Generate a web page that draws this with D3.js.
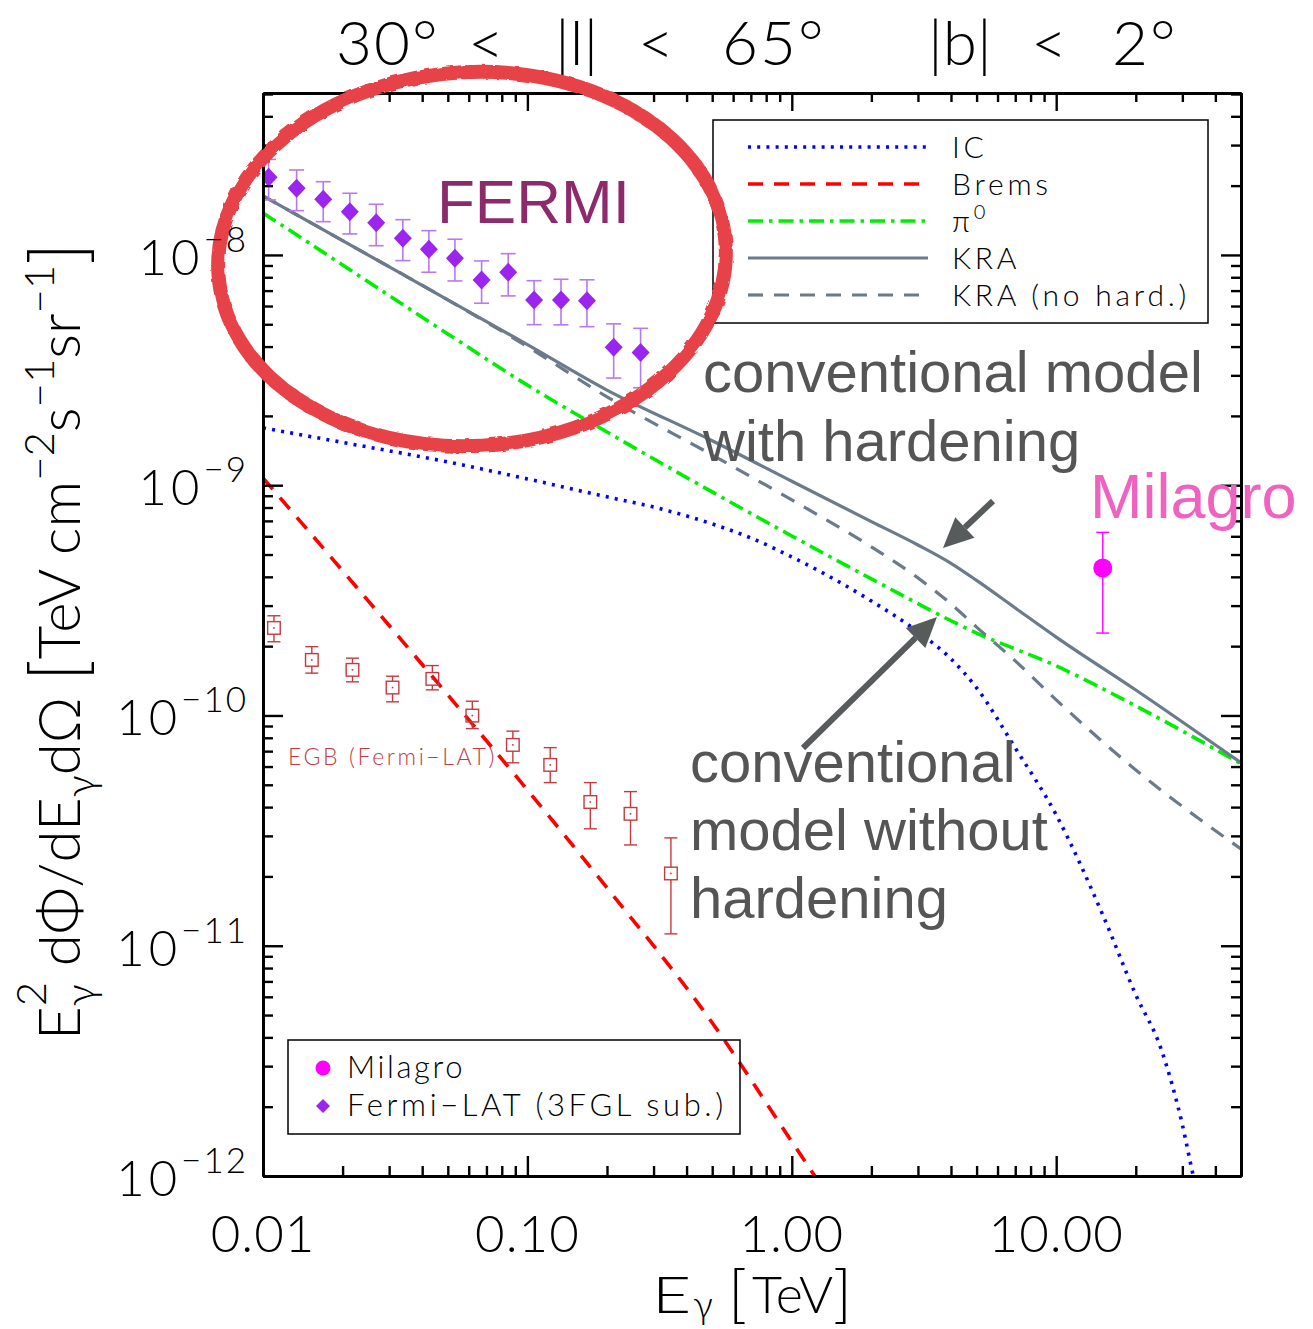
<!DOCTYPE html>
<html><head><meta charset="utf-8">
<script src="https://cdn.jsdelivr.net/npm/d3@7"></script>
<style>body{margin:0;background:#fff}svg{display:block}</style>
</head><body>
<script>
// ---------------- data ----------------
const icE = [0.01, 0.02, 0.05, 0.1, 0.2, 0.3, 0.5, 0.7, 1, 2, 3, 4, 5, 7, 10, 15, 20, 25, 30, 33, 35];
const icF = [1.774e-9, 1.534e-9, 1.262e-9, 1.065e-9, 8.90e-10, 8.04e-10, 6.79e-10, 5.90e-10, 4.88e-10, 3.14e-10, 2.31e-10, 1.761e-10, 1.318e-10, 7.23e-11, 3.70e-11, 1.362e-11, 6.12e-12, 3.53e-12, 1.67e-12, 1.0e-12, 7.5e-13];

const bremsE = [0.01, 0.02, 0.05, 0.1, 0.2, 0.5, 1, 1.3];
const bremsF = [1.076e-9, 4.25e-10, 1.229e-10, 4.75e-11, 1.784e-11, 4.63e-12, 1.41e-12, 9.0e-13];

const pi0E = [0.01, 0.02, 0.05, 0.1, 0.2, 0.5, 1, 2, 5, 10, 20, 50];
const pi0F = [1.522e-8, 9.05e-9, 4.54e-9, 2.72e-9, 1.703e-9, 9.35e-10, 6.02e-10, 3.92e-10, 2.28e-10, 1.642e-10, 1.10e-10, 6.17e-11];

const kraE = [0.01, 0.02, 0.05, 0.1, 0.2, 0.5, 1, 2, 3, 4, 5, 7, 10, 20, 50];
const kraF = [1.804e-8, 1.154e-8, 6.38e-9, 4.08e-9, 2.59e-9, 1.56e-9, 1.04e-9, 6.95e-10, 5.50e-10, 4.58e-10, 3.86e-10, 2.93e-10, 2.19e-10, 1.29e-10, 6.23e-11];

const kraNoHardE = [0.01, 0.02, 0.05, 0.1, 0.2, 0.5, 1, 2, 3, 4, 5, 7, 10, 20, 50];
const kraNoHardF = [1.804e-8, 1.154e-8, 6.38e-9, 4.0e-9, 2.42e-9, 1.353e-9, 8.63e-10, 5.40e-10, 3.96e-10, 3.05e-10, 2.42e-10, 1.726e-10, 1.169e-10, 5.80e-11, 2.63e-11];

const fermiE  = [0.0105, 0.0134, 0.0169, 0.0213, 0.0268, 0.0338, 0.0424, 0.0532, 0.0671, 0.0846, 0.106, 0.134, 0.168, 0.212, 0.268];
const fermiF  = [2.175e-8, 1.948e-8, 1.745e-8, 1.542e-8, 1.381e-8, 1.182e-8, 1.059e-8, 9.67e-9, 7.79e-9, 8.41e-9, 6.38e-9, 6.38e-9, 6.33e-9, 3.97e-9, 3.77e-9];
const fermiLo = [1.733e-8, 1.557e-8, 1.395e-8, 1.234e-8, 1.097e-8, 9.45e-9, 8.41e-9, 7.71e-9, 6.17e-9, 6.64e-9, 4.98e-9, 4.97e-9, 4.88e-9, 2.92e-9, 2.65e-9];
const fermiHi = [2.60e-8, 2.339e-8, 2.08e-8, 1.853e-8, 1.66e-8, 1.423e-8, 1.275e-8, 1.17e-8, 9.42e-9, 1.013e-8, 7.73e-9, 7.84e-9, 7.8e-9, 5.02e-9, 4.80e-9];

const egbE  = [0.0110, 0.0153, 0.0218, 0.0309, 0.0437, 0.0619, 0.0881, 0.122, 0.173, 0.2455, 0.349];
const egbF  = [2.40e-10, 1.743e-10, 1.578e-10, 1.322e-10, 1.442e-10, 9.99e-11, 7.45e-11, 6.10e-11, 4.21e-11, 3.74e-11, 2.06e-11];
const egbLo = [2.09e-10, 1.527e-10, 1.40e-10, 1.146e-10, 1.292e-10, 8.77e-11, 6.23e-11, 5.11e-11, 3.22e-11, 2.74e-11, 1.126e-11];
const egbHi = [2.71e-10, 1.99e-10, 1.774e-10, 1.481e-10, 1.647e-10, 1.153e-10, 8.55e-11, 7.25e-11, 5.11e-11, 4.67e-11, 2.94e-11];

const milagroE  = [15];
const milagroF  = [4.37e-10];
const milagroLo = [2.28e-10];
const milagroHi = [6.24e-10];

const xTickValues = [0.01, 0.1, 1, 10];
const xTickLabels = ["0.01", "0.10", "1.00", "10.00"];
const yTickValues = [1e-12, 1e-11, 1e-10, 1e-9, 1e-8];
const yTickExponents = ["\u221212", "\u221211", "\u221210", "\u22129", "\u22128"];

const legendLabels = ["IC", "Brems", "\u03c0", "KRA", "KRA (no hard.)"];
const titleTokens = ["30\u00b0", "<", "|l|", "<", "65\u00b0", "|b|", "<", "2\u00b0"];

// ---------------- layout ----------------
const W = 1313, H = 1329;
const L = 263, R = 1241, T = 93, B = 1176;
const LF = "Lato, 'Open Sans', 'DejaVu Sans', sans-serif";
const AF = "'Liberation Sans', Arial, Helvetica, sans-serif";

const svg = d3.select("body").append("svg").attr("width", W).attr("height", H);
const defs = svg.append("defs");

const x = d3.scaleLog().domain([0.01, 50]).range([L, R]);
const y = d3.scaleLog().domain([1e-12, 5.05e-8]).range([B, T]);

defs.append("clipPath").attr("id", "clip").append("rect")
  .attr("x", L).attr("y", T).attr("width", R - L).attr("height", B - T);

// rough marker filter for the hand-drawn ellipse
const flt = defs.append("filter").attr("id", "rough").attr("x", "-5%").attr("y", "-5%").attr("width", "110%").attr("height", "110%");
flt.append("feTurbulence").attr("type", "fractalNoise").attr("baseFrequency", 0.09).attr("numOctaves", 2).attr("seed", 3).attr("result", "n");
flt.append("feDisplacementMap").attr("in", "SourceGraphic").attr("in2", "n").attr("scale", 4);

const line = d3.line().x(d => x(d[0])).y(d => y(d[1])).curve(d3.curveMonotoneX);

const styles = {
  IC:     {color: "#0000ff", dash: "3,6.2", w: 3.6},
  Brems:  {color: "#ff0000", dash: "15,11", w: 3.6},
  pi0:    {color: "#00ee00", dash: "15,6,3.5,6", w: 3.6},
  KRA:    {color: "#6b7b8b", dash: null, w: 3.2},
  KRAnh:  {color: "#6b7b8b", dash: "15,11", w: 3.2}
};

const curves = [
  {E: icE, F: icF, s: styles.IC},
  {E: bremsE, F: bremsF, s: styles.Brems},
  {E: pi0E, F: pi0F, s: styles.pi0},
  {E: kraNoHardE, F: kraNoHardF, s: styles.KRAnh},
  {E: kraE, F: kraF, s: styles.KRA}
];

const gc = svg.append("g").attr("clip-path", "url(#clip)");
curves.forEach(c => {
  gc.append("path").datum(d3.zip(c.E, c.F)).attr("d", line)
    .attr("fill", "none").attr("stroke", c.s.color).attr("stroke-width", c.s.w)
    .attr("stroke-dasharray", c.s.dash);
});

// EGB points
const egbCol = "#c23b40";
const gE = gc.append("g");
egbE.forEach((e, i) => {
  const cx = x(e), cy = y(egbF[i]);
  gE.append("line").attr("x1", cx).attr("x2", cx).attr("y1", y(egbLo[i])).attr("y2", cy + 6.3).attr("stroke", egbCol).attr("stroke-width", 1.4);
  gE.append("line").attr("x1", cx).attr("x2", cx).attr("y1", y(egbHi[i])).attr("y2", cy - 6.3).attr("stroke", egbCol).attr("stroke-width", 1.4);
  [egbLo[i], egbHi[i]].forEach(v => gE.append("line").attr("x1", cx - 6.5).attr("x2", cx + 6.5).attr("y1", y(v)).attr("y2", y(v)).attr("stroke", egbCol).attr("stroke-width", 1.4));
  gE.append("rect").attr("x", cx - 6.3).attr("y", cy - 6.3).attr("width", 12.6).attr("height", 12.6).attr("fill", "none").attr("stroke", egbCol).attr("stroke-width", 1.4);
  gE.append("rect").attr("x", cx - 0.8).attr("y", cy - 0.8).attr("width", 1.6).attr("height", 1.6).attr("fill", egbCol);
});

// Fermi points
const fCol = "#9b25ee", fErr = "#b878f0";
fermiE.forEach((e, i) => {
  const cx = x(e), cy = y(fermiF[i]);
  gc.append("line").attr("x1", cx).attr("x2", cx).attr("y1", y(fermiLo[i])).attr("y2", y(fermiHi[i])).attr("stroke", fErr).attr("stroke-width", 1.6);
  [fermiLo[i], fermiHi[i]].forEach(v => gc.append("line").attr("x1", cx - 7.5).attr("x2", cx + 7.5).attr("y1", y(v)).attr("y2", y(v)).attr("stroke", fErr).attr("stroke-width", 1.6));
  gc.append("path").attr("d", `M${cx},${cy - 9.5}L${cx + 9},${cy}L${cx},${cy + 9.5}L${cx - 9},${cy}Z`).attr("fill", fCol);
});

// Milagro
const mCol = "#ff00ff";
milagroE.forEach((e, i) => {
  const cx = x(e), cy = y(milagroF[i]);
  gc.append("line").attr("x1", cx).attr("x2", cx).attr("y1", y(milagroLo[i])).attr("y2", y(milagroHi[i])).attr("stroke", mCol).attr("stroke-width", 1.4);
  [milagroLo[i], milagroHi[i]].forEach(v => gc.append("line").attr("x1", cx - 6.5).attr("x2", cx + 6.5).attr("y1", y(v)).attr("y2", y(v)).attr("stroke", mCol).attr("stroke-width", 1.4));
  gc.append("circle").attr("cx", cx).attr("cy", cy).attr("r", 9.5).attr("fill", mCol);
});

// ---------------- axes ----------------
const xMinor = [];
[0.01, 0.1, 1, 10].forEach(d => { for (let k = 2; k <= 9; k++) { const v = k * d; if (v <= 50.0001) xMinor.push(v); } });
const yMinor = [];
[1e-12, 1e-11, 1e-10, 1e-9, 1e-8].forEach(d => { for (let k = 2; k <= 9; k++) { const v = k * d; if (v <= 5.05e-8) yMinor.push(v); } });

function styleAxis(g, w) {
  g.selectAll(".domain").attr("stroke", "#000").attr("stroke-width", 3);
  g.selectAll(".tick line").attr("stroke", "#000").attr("stroke-width", w);
  g.selectAll("text").remove();
}
const ax = svg.append("g");
[
  [d3.axisBottom(x), `translate(0,${B})`, xTickValues, -20],
  [d3.axisBottom(x), `translate(0,${B})`, xMinor, -10],
  [d3.axisTop(x), `translate(0,${T})`, xTickValues, -18],
  [d3.axisTop(x), `translate(0,${T})`, xMinor, -9],
  [d3.axisLeft(y), `translate(${L},0)`, yTickValues, -20],
  [d3.axisLeft(y), `translate(${L},0)`, yMinor, -10],
  [d3.axisRight(y), `translate(${R},0)`, yTickValues, -20],
  [d3.axisRight(y), `translate(${R},0)`, yMinor, -10]
].forEach(([a, tr, vals, size]) => {
  const g = ax.append("g").attr("transform", tr)
    .call(a.tickValues(vals).tickSize(size).tickSizeOuter(0).tickFormat(""));
  styleAxis(g, 2.4);
});

function txt(t, xx, yy, size, anchor) {
  return svg.append("text").attr("x", xx).attr("y", yy).attr("font-family", LF).attr("font-weight", 300)
    .attr("font-size", size).attr("fill", "#000").attr("text-anchor", anchor || "start").text(t);
}

// x tick labels
xTickValues.forEach((v, i) => {
  txt(xTickLabels[i], x(v), 1252, 51, "middle").attr("letter-spacing", 1);
});

// x axis title
txt("E", 652, 1313, 52).attr("transform", "translate(652,0) scale(1.3,1) translate(-652,0)");
txt("\u03b3", 693, 1318, 38);
txt("[", 728, 1316, 64);
txt("TeV", 752, 1313, 52);
txt("]", 833, 1316, 64);

// y axis title
const yt = svg.append("text").attr("transform", "translate(80,1040) rotate(-90)")
  .attr("font-family", LF).attr("font-weight", 300).attr("font-size", 58).attr("fill", "#000");
yt.append("tspan").text("E");
yt.append("tspan").attr("font-size", 42).attr("dy", 15).text("\u03b3");
yt.append("tspan").attr("font-size", 42).attr("dx", -22).attr("dy", -49).text("2");
yt.append("tspan").attr("dy", 34).text(" d\u03a6/dE");
yt.append("tspan").attr("font-size", 42).attr("dy", 15).text("\u03b3");
yt.append("tspan").attr("dy", -15).text("d\u03a9 ");
yt.append("tspan").attr("font-size", 74).attr("dy", 4).text("[");
yt.append("tspan").attr("dy", -4).text("TeV cm");
yt.append("tspan").attr("font-size", 42).attr("dy", -26).text("\u22122");
yt.append("tspan").attr("dy", 26).text("s");
yt.append("tspan").attr("font-size", 42).attr("dy", -26).text("\u22121");
yt.append("tspan").attr("dy", 26).text("sr");
yt.append("tspan").attr("font-size", 42).attr("dy", -26).text("\u22121");
yt.append("tspan").attr("font-size", 74).attr("dy", 30).text("]");

// title
const titleX = [336, 468, 555, 638, 722, 928, 1031, 1112];
titleTokens.forEach((t, i) => txt(t, titleX[i], 65, 62).attr("letter-spacing", t.length > 1 && t[0] !== "|" ? 2 : 0));

// ---------------- legend top-right ----------------
svg.append("rect").attr("x", 713).attr("y", 120).attr("width", 495).attr("height", 203)
  .attr("fill", "none").attr("stroke", "#000").attr("stroke-width", 1.5);
const legStyles = [styles.IC, styles.Brems, styles.pi0, styles.KRA, styles.KRAnh];
legendLabels.forEach((lab, i) => {
  const ly = 147 + i * 37;
  svg.append("line").attr("x1", 748).attr("x2", 928).attr("y1", ly).attr("y2", ly)
    .attr("stroke", legStyles[i].color).attr("stroke-width", legStyles[i].w).attr("stroke-dasharray", legStyles[i].dash);
  const t = txt(lab, 952, ly + 11, 30).attr("letter-spacing", 3.8);
  if (i === 2) t.append("tspan").attr("font-size", 20).attr("dy", -13).text("0");
});

// ---------------- legend bottom-left ----------------
svg.append("rect").attr("x", 288).attr("y", 1040).attr("width", 452).attr("height", 94)
  .attr("fill", "none").attr("stroke", "#000").attr("stroke-width", 1.5);
svg.append("circle").attr("cx", 323).attr("cy", 1068).attr("r", 7.5).attr("fill", mCol);
svg.append("path").attr("d", "M323,1099L330,1106L323,1113L316,1106Z").attr("fill", fCol);
txt("Milagro", 347, 1078, 31).attr("letter-spacing", 2.6);
txt("Fermi\u2212LAT (3FGL sub.)", 347, 1116, 31).attr("letter-spacing", 3.6);

// EGB label
txt("EGB (Fermi\u2212LAT)", 288, 765, 23).attr("fill", egbCol).attr("letter-spacing", 2.6);

// ---------------- annotations ----------------
const gray = "#555555";
function ann(t, xx, yy, size, col) {
  svg.append("text").attr("x", xx).attr("y", yy).attr("font-family", AF).attr("font-size", size).attr("fill", col).text(t);
}
ann("FERMI", 437, 223, 62, "#8d2a6c");
ann("conventional model", 703, 392, 58, gray);
ann("with hardening", 703, 461, 58, gray);
ann("Milagro", 1090, 518, 63, "#f062c0");
ann("conventional", 690, 782, 58, gray);
ann("model without", 690, 850, 58, gray);
ann("hardening", 690, 918, 58, gray);

// arrows
function arrow(x1, y1, x2, y2) {
  const ang = Math.atan2(y2 - y1, x2 - x1);
  const hl = 30, hw = 14;
  const bx = x2 - hl * Math.cos(ang), by = y2 - hl * Math.sin(ang);
  svg.append("line").attr("x1", x1).attr("y1", y1).attr("x2", bx).attr("y2", by)
    .attr("stroke", "#575b5b").attr("stroke-width", 6);
  const px = -Math.sin(ang) * hw, py = Math.cos(ang) * hw;
  svg.append("path").attr("d", `M${x2},${y2}L${bx + px},${by + py}L${bx - px},${by - py}Z`).attr("fill", "#575b5b");
}
arrow(993, 501, 943, 548);
arrow(803, 748, 937, 617);

// hand-drawn ellipse
svg.append("g").attr("filter", "url(#rough)").append("ellipse")
  .attr("cx", 472).attr("cy", 259).attr("rx", 254).attr("ry", 187)
  .attr("transform", "rotate(-3,472,259)")
  .attr("fill", "none").attr("stroke", "#e8424a").attr("stroke-width", 14);

// y tick labels (on top)
yTickValues.forEach((v, i) => {
  const t = svg.append("text").attr("x", 248).attr("y", y(v) + 20).attr("text-anchor", "end")
    .attr("font-family", LF).attr("font-weight", 300).attr("font-size", 49).attr("fill", "#000");
  t.append("tspan").attr("letter-spacing", 4).text("10");
  t.append("tspan").attr("font-size", 35).attr("letter-spacing", 2).attr("dy", -23).text(yTickExponents[i]);
});
</script>
</body></html>
